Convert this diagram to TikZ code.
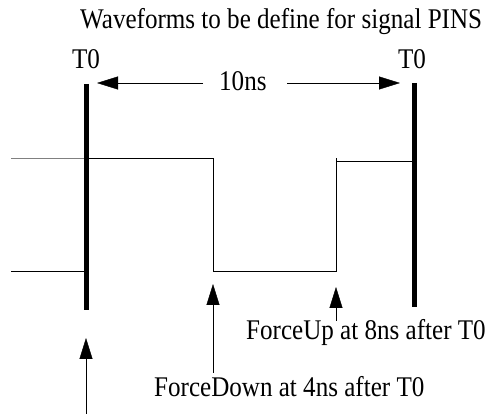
\documentclass[tikz,border=0pt]{standalone}
\usepackage{fontspec}
\setmainfont{Liberation Serif}[FakeStretch=0.88]
\usepackage{tikz}
\usetikzlibrary{
  arrows.meta,%
  calc,%
  positioning
}
\tikzset{>={Triangle[length=21pt,width=13pt]}}
\tikzset{lbl/.style={font=\fontsize{28.5}{34}\selectfont, inner sep=0pt, anchor=base west}}
\tikzset{wave/.style={line width=1pt}, tbar/.style={line width=5pt}}

\begin{document}
\begin{tikzpicture}[x=1pt, y=-1pt]
          \useasboundingbox (0,0) rectangle (491,414);
          \node[lbl] (title) at (80,29) {Waveforms to be define for signal PINS};
          \node[lbl, anchor=base] (tzL) at (86,69) {T0};
          \node[lbl, anchor=base] (tzR) at (412,69) {T0};
          \node[lbl] (ten) at (219,91) {10ns};
          \coordinate (tipL) at (97,83);
          \coordinate (tipR) at (400,83);
          \coordinate (gapL) at (203,83);
          \coordinate (gapR) at (287,83);
          \draw[->] (gapL) -- (tipL);
          \draw[->] (gapR) -- (tipR);
          % waveform
          \draw[wave, gray] (11,159) -- (86,159);
          \draw[wave] (86,159) -- (213,159) -- (213,272) -- (336,272) -- (336,158);
          \draw[wave] (336,161.5) -- (412,161.5);
          \draw[wave] (11,272) -- (84,272);
          % T0 bars
          \draw[tbar] (86,84) -- (86,310);
          \draw[tbar] (414,83) -- (414,307);
          % markers below
          \node[lbl] (up) at (246,340) {ForceUp at 8ns after T0};
          \node[lbl] (down) at (154,397) {ForceDown at 4ns after T0};
          \coordinate (tipT) at (86,338);
          \coordinate (tipD) at (213,284);
          \coordinate (tipU) at (336,287);
          \coordinate (endT) at (86,414);
          \coordinate (endD) at (213,373);
          \coordinate (endU) at (336,321);
          \draw[->] (endT) -- (tipT);
          \draw[->] (endD) -- (tipD);
          \draw[->] (endU) -- (tipU);
        \end{tikzpicture}
\end{document}
